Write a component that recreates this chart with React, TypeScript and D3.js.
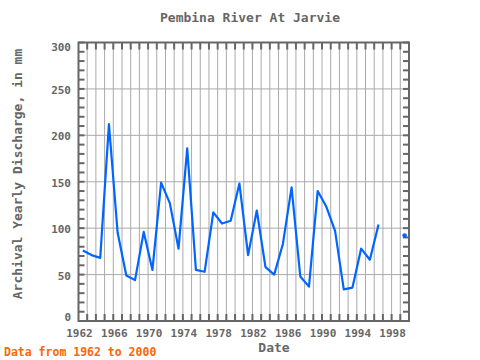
import React from "react";
import * as d3 from "d3";

const years: number[] = [
  1962, 1963, 1964, 1965, 1966, 1967, 1968, 1969, 1970, 1971,
  1972, 1973, 1974, 1975, 1976, 1977, 1978, 1979, 1980, 1981,
  1982, 1983, 1984, 1985, 1986, 1987, 1988, 1989, 1990, 1991,
  1992, 1993, 1994, 1995, 1996, 1997, 1998, 1999,
];
const discharge: (number | null)[] = [
  76, 71, 68, 212, 95, 49, 44, 96, 55, 149,
  127, 78, 186, 55, 53, 117, 105, 108, 148, 71,
  119, 58, 50, 83, 144, 48, 37, 140, 123, 97,
  34, 36, 78, 66, 104, null, null, 92,
];
const xTickYears: number[] = [1962, 1966, 1970, 1974, 1978, 1982, 1986, 1990, 1994, 1998];
const yTicks: number[] = [0, 50, 100, 150, 200, 250, 300];

const W = 480;
const H = 360;
const L = 78.5;
const R = 409;
const T = 42.5;
const B = 321;
const FONT = "'DejaVu Sans Mono', 'Liberation Mono', monospace";
const AX = "#666666";
const GRID = "#aaaaaa";
const LINE = "#0066ff";

export default function App() {
  const x = d3.scaleLinear().domain([1962, 2000]).range([L, R]);
  const y = d3.scaleLinear().domain([0, 300]).range([B, T]);

  const pts = years.map((yr, i) => ({ yr, v: discharge[i] }));
  const line = d3
    .line<{ yr: number; v: number | null }>()
    .defined((d) => d.v !== null)
    .x((d) => x(d.yr + 0.5))
    .y((d) => y(d.v as number));

  const isolated = pts.filter((d, i) => {
    if (d.v === null) return false;
    const prev = i > 0 ? pts[i - 1].v : null;
    const next = i < pts.length - 1 ? pts[i + 1].v : null;
    return prev === null && next === null;
  });

  const gridYears = d3.range(1963, 2000);
  const minor = d3.range(0, 301, 10);

  const labelY = (v: number) => {
    const c = Math.min(Math.max(y(v) + 1, T + 4), B - 4);
    return c + 4;
  };

  return (
    <svg width={W} height={H} style={{ position: "absolute", left: 0, top: 0, background: "#fff" }}>
      <rect x={0} y={0} width={W} height={H} fill="#fff" />
      <text x={250} y={22} textAnchor="middle" fontFamily={FONT} fontSize={13} fontWeight="bold" fill={AX}>
        Pembina River At Jarvie
      </text>
      {gridYears.map((yr) => (
        <line key={"gx" + yr} x1={x(yr)} x2={x(yr)} y1={T} y2={B} stroke={GRID} strokeWidth={1} />
      ))}
      {yTicks.map((v) => (
        <line key={"gy" + v} x1={L} x2={R} y1={y(v)} y2={y(v)} stroke={GRID} strokeWidth={1} />
      ))}
      {gridYears.map((yr) => (
        <g key={"tx" + yr}>
          <line x1={x(yr)} x2={x(yr)} y1={T} y2={T + 7} stroke={AX} strokeWidth={2} />
          <line x1={x(yr)} x2={x(yr)} y1={B} y2={B - 7} stroke={AX} strokeWidth={2} />
        </g>
      ))}
      {minor.map((v) => (
        <g key={"ty" + v}>
          <line x1={L} x2={L + 6} y1={y(v)} y2={y(v)} stroke={AX} strokeWidth={2} />
          <line x1={R} x2={R - 6} y1={y(v)} y2={y(v)} stroke={AX} strokeWidth={2} />
        </g>
      ))}
      <rect x={L} y={T} width={R - L} height={B - T} fill="none" stroke={AX} strokeWidth={2} />
      <path d={line(pts) || ""} fill="none" stroke={LINE} strokeWidth={2.2} strokeLinejoin="round" />
      {isolated.map((d) => (
        <circle key={"p" + d.yr} cx={x(d.yr + 0.5)} cy={y(d.v as number)} r={2.3} fill={LINE} />
      ))}
      {yTicks.map((v) => (
        <text key={"ly" + v} x={71} y={labelY(v)} textAnchor="end" fontFamily={FONT} fontSize={11} fontWeight="bold" fill={AX}>
          {v}
        </text>
      ))}
      {xTickYears.map((yr) => (
        <text key={"lx" + yr} x={x(yr) + 1} y={337} textAnchor="middle" fontFamily={FONT} fontSize={11} fontWeight="bold" fill={AX}>
          {yr}
        </text>
      ))}
      <text x={274} y={352} textAnchor="middle" fontFamily={FONT} fontSize={13} fontWeight="bold" fill={AX}>
        Date
      </text>
      <text
        transform={`translate(21.5, 174) rotate(-90)`}
        textAnchor="middle"
        fontFamily={FONT}
        fontSize={13}
        fontWeight="bold"
        fill={AX}
      >
        Archival Yearly Discharge, in mm
      </text>
      <text x={4} y={356} fontFamily={FONT} fontSize={11.5} fontWeight="bold" fill="#ff6600">
        Data from 1962 to 2000
      </text>
    </svg>
  );
}
